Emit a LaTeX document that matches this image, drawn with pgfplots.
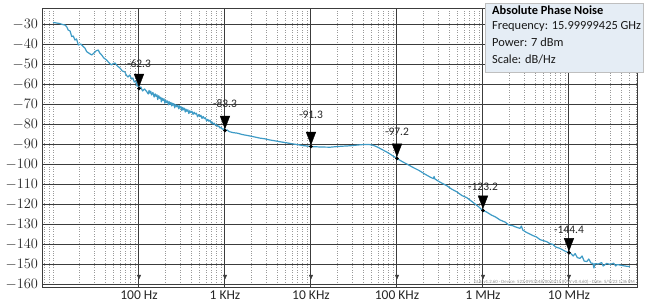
\documentclass[border=0pt]{standalone}
\usepackage{fontspec}
\setmainfont{Carlito}
\usepackage{pgfplots}
\pgfplotsset{compat=1.18}
\definecolor{trace}{RGB}{62,155,198}
\definecolor{boxfill}{RGB}{229,237,245}
\definecolor{gridmaj}{RGB}{60,60,60}
\pgfdeclareplotmark{dtri}{%
  \pgfpathmoveto{\pgfpoint{0pt}{2pt}}%
  \pgfpathlineto{\pgfpoint{-4.8pt}{14.5pt}}%
  \pgfpathlineto{\pgfpoint{4.8pt}{14.5pt}}%
  \pgfpathclose\pgfusepathqfillstroke}
\pgfdeclareplotmark{atri}{%
  \pgfpathmoveto{\pgfpoint{0pt}{0pt}}%
  \pgfpathlineto{\pgfpoint{-1.8pt}{4pt}}%
  \pgfpathlineto{\pgfpoint{1.8pt}{4pt}}%
  \pgfpathclose\pgfusepathqfillstroke}
\begin{document}
\begin{tikzpicture}
\path (-42pt,-16pt) rectangle (604pt,287pt);
\begin{axis}[
  at={(0pt,0pt)}, anchor=south west,
  scale only axis, width=595pt, height=279pt,
  xmode=log, xmin=7.45, xmax=6.18e7, ymin=-161.5, ymax=-22,
  xtick={100,1000,10000,100000,1000000,10000000},
  xticklabels={100 Hz,1 KHz,10 KHz,100 KHz,1 MHz,10 MHz},
  minor xtick={8,9,10,20,30,40,50,60,70,80,90,200,300,400,500,600,700,800,900,
    2000,3000,4000,5000,6000,7000,8000,9000,
    20000,30000,40000,50000,60000,70000,80000,90000,
    200000,300000,400000,500000,600000,700000,800000,900000,
    2000000,3000000,4000000,5000000,6000000,7000000,8000000,9000000,
    20000000,30000000,40000000,50000000,60000000},
  ytick={-160,-140,-120,-100,-80,-60,-40},
  extra y ticks={-150,-130,-110,-90,-70,-50,-30},
  extra y tick style={grid style={black!30, line width=0.5pt}},
  xmajorgrids, ymajorgrids, xminorgrids,
  major grid style={gridmaj, line width=1pt},
  minor grid style={black!40, dotted, line width=0.5pt},
  major tick length=0pt, minor tick length=0pt,
  axis line style={gridmaj, line width=0.8pt},
  tick label style={font=\fontsize{13.5}{15}\selectfont, black!85},
  yticklabel style={xshift=-0.5pt},
  xticklabel style={yshift=-0.5pt},
  clip=false,
]
\addplot[trace, line width=1.2pt, line join=round] coordinates {
(10,-29.2)(11,-29.5)(12,-29.8)(13,-30.3)(13.8,-30.5)(14.5,-31.5)(15,-33)(15.8,-33.5)
(16.5,-36.3)(17.2,-36)(18,-38)(18.8,-37.5)(19.7,-40.5)(21,-40)(22.5,-41.3)(23.5,-42)
(24.6,-43.8)(26,-44.5)(28.2,-45.5)(30,-44.5)(31.5,-43.5)(33.6,-43)(35,-44.5)(36.8,-45.5)
(39,-47)(42,-48)(45,-49.5)(48,-50.5)(50,-49.8)(52.6,-49.5)(56,-51)(60,-52)(64,-53.5)
(68.7,-54)(71,-55.5)(74.5,-56.5)(78,-55.5)(82,-57.5)(85,-57)(88,-59)(92,-58.5)(95,-61)
(98,-60.5)(100,-62.3)(105,-61.5)(110,-63.5)(116,-62.5)(123,-63.8)
(128,-65)(131,-63.2)(134,-64.6)(137,-63.6)(140,-65.5)(145,-64.2)(150,-66.5)(154,-64.9)
(158,-66.2)(162,-65.4)(165,-67.8)(170,-65.9)(175,-67.3)(179,-66.6)(182,-68.9)(186,-67.1)
(190,-68.2)(195,-67.4)(200,-69.6)(205,-68.1)(210,-69.3)(215,-68.5)(220,-70.4)(225,-68.9)
(230,-70.1)(235,-69.2)(240,-71.0)(244,-69.6)(248,-70.6)(254,-69.8)(260,-71.9)(267,-70.3)
(275,-71.4)(282,-70.6)(290,-72.4)(296,-70.9)(300,-72.0)(308,-71.3)(315,-73.3)(322,-71.7)
(330,-72.9)(338,-72.1)(345,-74.0)(352,-72.6)(360,-73.6)(370,-72.9)(380,-74.8)(390,-73.4)
(400,-74.3)(412,-73.6)(425,-75.2)(437,-74.1)(450,-75.0)(465,-74.6)(480,-76.4)(496,-75.3)
(512,-76.3)(525,-75.6)(540,-77.2)(557,-76.2)(575,-77.3)(592,-76.9)(612,-78.5)(630,-77.7)
(650,-78.6)(670,-78.1)(690,-79.5)(708,-79.0)(725,-80.0)(750,-79.6)(780,-80.8)(805,-80.4)
(830,-81.3)(850,-81.0)(875,-82.0)(900,-81.7)(930,-82.6)(965,-82.5)(1000,-83.3)
(1060,-83)(1120,-83.8)(1240,-84.3)(1400,-84.6)(1600,-85.3)(1800,-85.7)(2120,-86.3)(2500,-87)
(2900,-87.4)(3330,-88)(3800,-88.4)(4400,-88.9)(5210,-89.4)(6000,-89.9)(7000,-90.3)(8070,-90.8)
(9000,-91)(10000,-91.3)
(11500,-91.4)(13000,-91.5)(16600,-91.6)(20000,-91.3)(23000,-91.1)(26000,-91)(30000,-90.8)
(35000,-90.5)(40000,-90.3)(44400,-90.2)(48000,-90.3)(52600,-90.6)(57000,-91.2)(63400,-92.2)
(70000,-93.2)(76000,-94)(83000,-95)(90000,-96)(100000,-97.2)
(115000,-98.8)(130000,-100)(155000,-101.8)(180000,-103.2)(210000,-105)(242000,-106.5)
(265000,-107.3)(270000,-106.2)(275000,-107.4)(300000,-108.5)(340000,-109.8)(378000,-110.8)
(430000,-112.5)(500000,-114)(570000,-115.8)(646000,-116.8)(720000,-118.3)(800000,-119.8)
(880000,-121.2)(950000,-122.5)(1000000,-123.2)
(1100000,-124)(1250000,-125.5)(1400000,-126.5)(1580000,-128)(1800000,-129)(2000000,-130.5)
(2200000,-130.8)(2400000,-131.5)(2690000,-132.2)(2800000,-131)(2900000,-133)(3200000,-134.2)
(3500000,-135)(3800000,-135.8)(4200000,-136.5)(4600000,-137.8)(5000000,-138.3)(5500000,-138.8)
(6000000,-139.8)(6500000,-140.2)(7000000,-141.5)(7850000,-142.2)(8500000,-143)(9200000,-143.8)
(10000000,-144.4)
(10500000,-144.7)(11200000,-146)(11800000,-144.8)(12500000,-146.8)(13400000,-147.2)(14200000,-146)
(15000000,-148.5)(16100000,-148.8)(17000000,-147.5)(18000000,-149.5)(19000000,-149.7)(19500000,-152)
(20000000,-149.8)(22000000,-150)(24000000,-149.3)(25000000,-151)(27400000,-149.7)(30000000,-150.2)
(33000000,-149.6)(35000000,-151)(36000000,-150.3)(39200000,-150.5)(42000000,-150.8)(45000000,-151)
(48000000,-151.2)(51200000,-151.3)
};
% marker triangles
\addplot[only marks, mark=dtri, mark options={black, fill=black}] coordinates {
(100,-62.3)(1000,-83.3)(10000,-91.3)(100000,-97.2)(1000000,-123.2)(10000000,-144.4)};
% marker dots
\addplot[only marks, mark=*, mark size=1.6pt, mark options={black, fill=black}] coordinates {
(100,-62.3)(1000,-83.3)(10000,-91.3)(100000,-97.2)(1000000,-123.2)(10000000,-144.4)};
% arrowheads at bottom of marker lines
\addplot[only marks, mark=atri, mark options={gridmaj, fill=gridmaj}] coordinates {
(100,-157.5)(1000,-157.5)(10000,-157.5)(100000,-157.5)(1000000,-157.5)(10000000,-157.5)};
% marker labels
\node[font=\fontsize{11.5}{13}\selectfont, black!85] at (axis cs:100,-62.3) [yshift=25pt] {-62.3};
\node[font=\fontsize{11.5}{13}\selectfont, black!85] at (axis cs:1000,-83.3) [yshift=27pt] {-83.3};
\node[font=\fontsize{11.5}{13}\selectfont, black!85] at (axis cs:10000,-91.3) [yshift=32pt] {-91.3};
\node[font=\fontsize{11.5}{13}\selectfont, black!85] at (axis cs:100000,-97.2) [yshift=27pt] {-97.2};
\node[font=\fontsize{11.5}{13}\selectfont, black!85] at (axis cs:1000000,-123.2) [yshift=24pt] {-123.2};
\node[font=\fontsize{11.5}{13}\selectfont, black!85] at (axis cs:10000000,-144.4) [yshift=23pt] {-144.4};
% footer
\node[anchor=south east, font=\fontsize{4.8}{5}\selectfont, black!45, inner sep=1pt]
  at (rel axis cs:1,0) [xshift=-1pt, yshift=2pt]
  {GUI: v1.2.60 - Device: 523-0953148/00-0215 (F/W v0.4.60) - Date: 5/9/23 1:36 PM};
\end{axis}
% info box
\fill[boxfill] (443pt,215pt) rectangle (601pt,284pt);
\draw[black!25, line width=0.5pt] (443pt,215pt) rectangle (601pt,284pt);
\node[anchor=west, font=\fontsize{12.4}{14}\selectfont\bfseries, inner sep=0pt] at (450pt,276.5pt) {Absolute Phase Noise};
\node[anchor=west, font=\fontsize{12.4}{14}\selectfont, inner sep=0pt, black!90] at (450pt,261pt) {Frequency: 15.99999425 GHz};
\node[anchor=west, font=\fontsize{12.4}{14}\selectfont, inner sep=0pt, black!90] at (450pt,244.5pt) {Power: 7 dBm};
\node[anchor=west, font=\fontsize{12.4}{14}\selectfont, inner sep=0pt, black!90] at (450pt,228pt) {Scale: dB/Hz};
\end{tikzpicture}
\end{document}
